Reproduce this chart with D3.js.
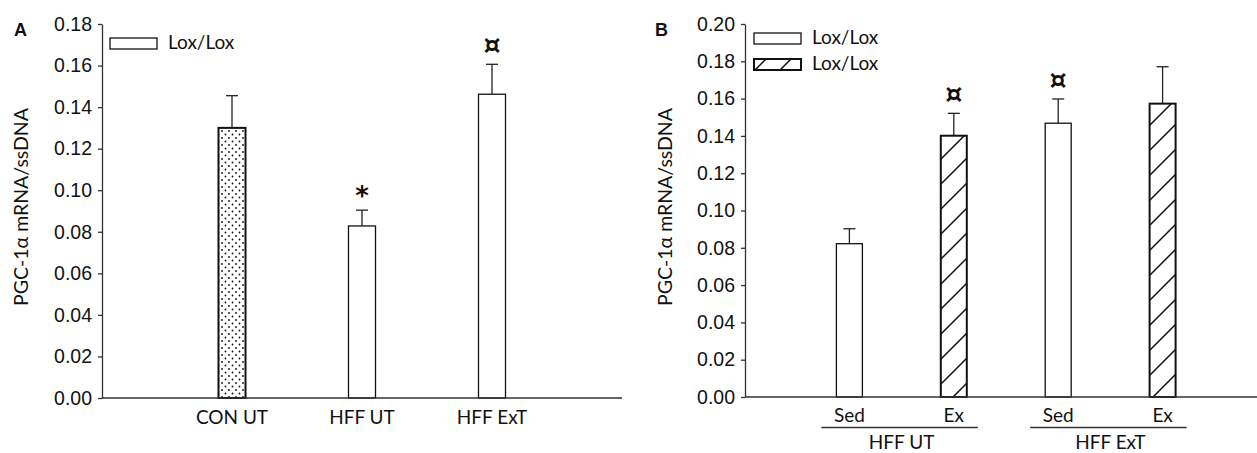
<!DOCTYPE html>
<html>
<head>
<meta charset="utf-8">
<script src="https://cdn.jsdelivr.net/npm/d3@7"></script>
<style>
  body { margin: 0; background: #fff; }
  svg { display: block; font-family: Lato, "Open Sans", sans-serif; }
  .tick text { font-size: 19.5px; fill: #111; }
</style>
</head>
<body>
<svg id="chart" width="1257" height="453"></svg>
<script>
// panel A
var catsA = ["CON UT", "HFF UT", "HFF ExT"];
var valsA = [0.1300, 0.0828, 0.1462];
var errA = [0.0155, 0.0076, 0.0144];
var fillA = ["dots", "open", "open"];
var markA = ["", "*", "\u00a4"];
var ticksA = [0, 0.02, 0.04, 0.06, 0.08, 0.10, 0.12, 0.14, 0.16, 0.18];

// panel B
var catsB = ["HFF UT Sed", "HFF UT Ex", "HFF ExT Sed", "HFF ExT Ex"];
var subB = ["Sed", "Ex", "Sed", "Ex"];
var groupsB = ["HFF UT", "HFF ExT"];
var valsB = [0.0822, 0.1401, 0.1468, 0.1573];
var errB = [0.0080, 0.0120, 0.0130, 0.0198];
var fillB = ["open", "hatch", "open", "hatch"];
var markB = ["", "\u00a4", "\u00a4", ""];
var ticksB = [0, 0.02, 0.04, 0.06, 0.08, 0.10, 0.12, 0.14, 0.16, 0.18, 0.20];

var legendLabel = "Lox/Lox";
var yLabel = "PGC-1\u03b1 mRNA/ssDNA";

var svg = d3.select("#chart");
var defs = svg.append("defs");

var dots = defs.append("pattern").attr("id", "dots")
    .attr("patternUnits", "userSpaceOnUse").attr("width", 7).attr("height", 7);
dots.append("rect").attr("width", 7).attr("height", 7).attr("fill", "#fff");
dots.append("circle").attr("cx", 1.5).attr("cy", 1.5).attr("r", 0.9).attr("fill", "#111");
dots.append("circle").attr("cx", 5).attr("cy", 5).attr("r", 0.9).attr("fill", "#111");

var hatch = defs.append("pattern").attr("id", "hatch")
    .attr("patternUnits", "userSpaceOnUse").attr("width", 25).attr("height", 25);
hatch.append("rect").attr("width", 25).attr("height", 25).attr("fill", "#fff");
hatch.append("path").attr("d", "M-2,27 L27,-2 M-5,5 L5,-5 M20,30 L30,20")
    .attr("stroke", "#111").attr("stroke-width", 1.5);

function fillOf(f) { return f === "open" ? "#fff" : "url(#" + f + ")"; }
function strokeW(f) { return f === "open" ? 1.3 : 2; }

function drawPanel(o) {
  var g = svg.append("g");
  var x = d3.scalePoint().domain(o.cats).range(o.xr).padding(1);
  var y = d3.scaleLinear().domain(o.yd).range(o.yr);
  var bw = o.bw;

  // bars + error bars
  o.cats.forEach(function(c, i) {
    var cx = x(c);
    var top = y(o.vals[i] + o.err[i]);
    g.append("line").attr("x1", cx).attr("x2", cx)
        .attr("y1", y(o.vals[i])).attr("y2", top)
        .attr("stroke", "#222").attr("stroke-width", 1.3);
    g.append("line").attr("x1", cx - 6).attr("x2", cx + 6)
        .attr("y1", top).attr("y2", top)
        .attr("stroke", "#222").attr("stroke-width", 1.3);
    g.append("rect")
        .attr("x", cx - bw / 2).attr("y", y(o.vals[i]))
        .attr("width", bw).attr("height", y(0) - y(o.vals[i]))
        .attr("fill", fillOf(o.fill[i]))
        .attr("stroke", "#111").attr("stroke-width", strokeW(o.fill[i]));
    if (o.mark[i]) {
      var star = o.mark[i] === "*";
      g.append("text").attr("x", cx).attr("y", top - (star ? 5 : 10))
          .attr("text-anchor", "middle")
          .attr("font-family", "DejaVu Sans")
          .attr("font-weight", "bold")
          .attr("font-size", star ? 26 : 27)
          .attr("fill", "#111")
          .text(o.mark[i]);
    }
  });

  // y axis
  var ax = g.append("g").attr("transform", "translate(" + o.xr[0] + ",0)")
      .call(d3.axisLeft(y).tickValues(o.ticks).tickFormat(d3.format(".2f"))
        .tickSizeInner(4).tickSizeOuter(0).tickPadding(6));
  ax.select(".domain").attr("stroke", "#333").attr("stroke-width", 1.3);
  ax.selectAll(".tick line").attr("stroke", "#333").attr("stroke-width", 1.3);

  // x baseline
  g.append("line").attr("x1", o.xr[0]).attr("x2", o.xr[1])
      .attr("y1", y(0)).attr("y2", y(0))
      .attr("stroke", "#333").attr("stroke-width", 1.3);

  // y label
  g.append("text")
      .attr("transform", "translate(" + o.labX + ",207) rotate(-90)")
      .attr("text-anchor", "middle").attr("dominant-baseline", "middle")
      .attr("font-size", 19.5).attr("fill", "#111")
      .text(yLabel);

  // panel letter
  g.append("text").attr("x", o.letX).attr("y", 36)
      .attr("font-family", "Liberation Sans, Arial, sans-serif")
      .attr("font-weight", "bold").attr("font-size", 18).attr("fill", "#111")
      .text(o.letter);

  // legend
  o.legend.forEach(function(f, i) {
    var ly = o.legY + i * 26;
    g.append("rect").attr("x", o.legX).attr("y", ly)
        .attr("width", 47).attr("height", 11)
        .attr("fill", fillOf(f)).attr("stroke", "#111")
        .attr("stroke-width", f === "open" ? 1.3 : 2);
    g.append("text").attr("x", o.legX + 58).attr("y", ly + 6)
        .attr("dominant-baseline", "middle")
        .attr("font-size", 19).attr("fill", "#111")
        .text(legendLabel);
  });

  return { g: g, x: x, y: y };
}

var A = drawPanel({
  cats: catsA, vals: valsA, err: errA, fill: fillA, mark: markA, ticks: ticksA,
  xr: [102, 622], yd: [0, 0.18], yr: [398, 24], bw: 27,
  labX: 23, letX: 14, letter: "A",
  legend: ["open"], legX: 110, legY: 38
});

A.g.selectAll(".catlab").data(catsA).enter().append("text")
    .attr("x", function(d) { return A.x(d); })
    .attr("y", 419)
    .attr("text-anchor", "middle").attr("dominant-baseline", "middle")
    .attr("font-size", 19).attr("fill", "#111")
    .text(function(d) { return d; });

var B = drawPanel({
  cats: catsB, vals: valsB, err: errB, fill: fillB, mark: markB, ticks: ticksB,
  xr: [745, 1267], yd: [0, 0.20], yr: [397, 24], bw: 26,
  labX: 667, letX: 655, letter: "B",
  legend: ["open", "hatch"], legX: 754, legY: 33
});

B.g.selectAll(".sublab").data(catsB).enter().append("text")
    .attr("x", function(d) { return B.x(d); })
    .attr("y", 417)
    .attr("text-anchor", "middle").attr("dominant-baseline", "middle")
    .attr("font-size", 19).attr("fill", "#111")
    .text(function(d, i) { return subB[i]; });

groupsB.forEach(function(gr, k) {
  var a = B.x(catsB[k * 2]), b = B.x(catsB[k * 2 + 1]);
  B.g.append("line").attr("x1", a - 28).attr("x2", b + 24)
      .attr("y1", 427.5).attr("y2", 427.5)
      .attr("stroke", "#333").attr("stroke-width", 1.3);
  B.g.append("text").attr("x", (a + b) / 2).attr("y", 444)
      .attr("text-anchor", "middle").attr("dominant-baseline", "middle")
      .attr("font-size", 19).attr("fill", "#111")
      .text(gr);
});
</script>
</body>
</html>
